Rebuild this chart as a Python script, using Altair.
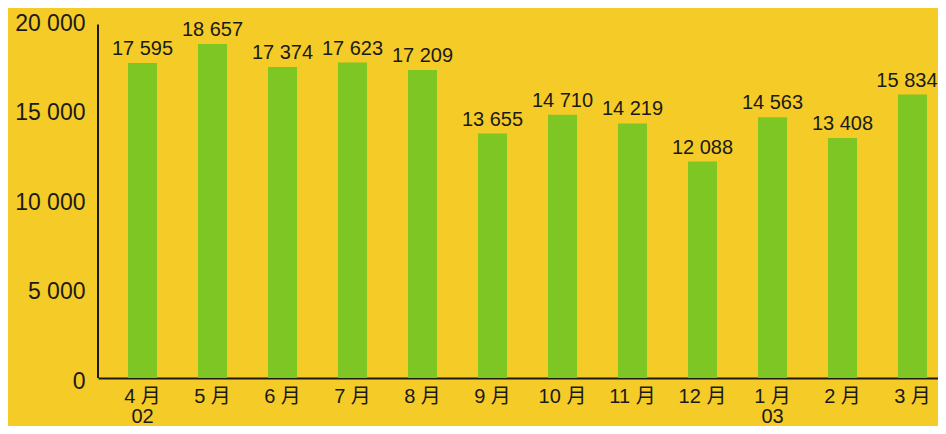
import altair as alt
import pandas as pd

months = ["4 月", "5 月", "6 月", "7 月", "8 月", "9 月", "10 月", "11 月", "12 月", "1 月", "2 月", "3 月"]
years = ["02", "", "", "", "", "", "", "", "", "03", "", ""]
values = [17595, 18657, 17374, 17623, 17209, 13655, 14710, 14219, 12088, 14563, 13408, 15834]
y_ticks = [0, 5000, 10000, 15000, 20000]

cats = [m + ("|" + y if y else "") for m, y in zip(months, years)]
df = pd.DataFrame({
    "cat": cats,
    "value": values,
    "text": [f"{v:,}".replace(",", " ") for v in values],
})
last_cat = cats[-1]

BG = "#F5CB27"
BAR = "#7EC624"
INK = "#1a1a1a"

x_enc = alt.X(
    "cat:N", sort=cats, title=None,
    scale=alt.Scale(paddingInner=0.5857, paddingOuter=0.2929, align=0.732),
    axis=alt.Axis(
        labelExpr="split(datum.label, '|')",
        labelAngle=0, ticks=False, domainColor=INK, domainWidth=2,
        labelFont="Liberation Sans, Noto Sans CJK SC", labelFontSize=20,
        labelColor=INK, labelPadding=8, labelLineHeight=20,
        labelBaseline="top",
    ),
)
y_scale = alt.Scale(domain=[0, 20000], nice=False)

bars = alt.Chart(df).mark_bar(color=BAR).encode(
    x=x_enc,
    y=alt.Y(
        "value:Q", scale=y_scale, title=None,
        axis=alt.Axis(
            values=y_ticks, ticks=False, grid=False, domain=False,
            labelFont="Liberation Sans", labelFontSize=23, labelColor=INK,
            labelPadding=13, labelOffset=3,
            labelExpr="replace(format(datum.value, ',d'), ',', ' ')",
        ),
    ),
)

text_style = dict(dy=-8, baseline="alphabetic", font="Liberation Sans",
                  fontSize=20, color=INK)

labels = alt.Chart(df).transform_filter(
    alt.datum.cat != last_cat
).mark_text(align="center", **text_style).encode(
    x=alt.X("cat:N", sort=cats),
    y=alt.Y("value:Q", scale=y_scale),
    text="text:N",
)

label_last = alt.Chart(df).transform_filter(
    alt.datum.cat == last_cat
).mark_text(align="right", dx=25, **text_style).encode(
    x=alt.X("cat:N", sort=cats),
    y=alt.Y("value:Q", scale=y_scale),
    text="text:N",
)

yline = alt.Chart(pd.DataFrame({"y0": [0], "y1": [19750]})).mark_rule(
    color=INK, strokeWidth=2
).encode(
    x=alt.value(0),
    y=alt.Y("y0:Q", scale=y_scale),
    y2="y1:Q",
)

chart = alt.layer(bars, labels, label_last, yline).properties(
    width=840, height=358,
    background=BG,
    padding={"left": 90, "top": 12, "right": 0, "bottom": 48},
    autosize=alt.AutoSizeParams(type="none"),
).configure_view(stroke=None, fill=BG)

chart.save("out.html", embed_options={"renderer": "svg", "actions": False})
